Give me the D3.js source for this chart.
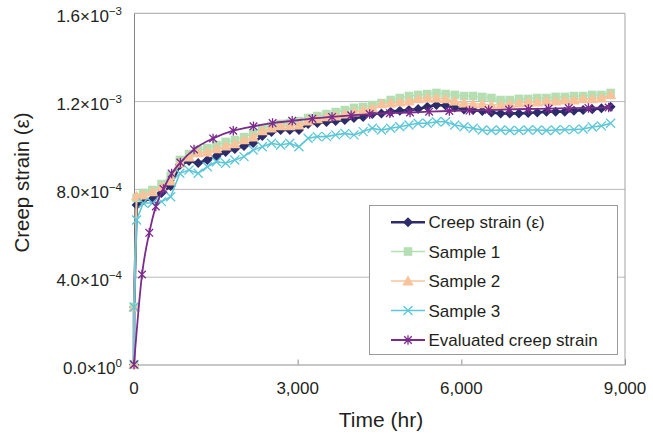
<!DOCTYPE html>
<html><head><meta charset="utf-8">
<script src="https://cdn.jsdelivr.net/npm/d3@7"></script>
<style>
body{margin:0;background:#fff}
svg{display:block}
text{font-family:"Liberation Sans",Arial,sans-serif;fill:#231f20}
</style>
</head><body>
<svg id="chart" width="653" height="435"></svg>
<script>
// ---- data (strain values in units of 1e-4) ----
const STRAIN_UNIT = 1e-4;
const timeHr = [0, 2, 48, 168, 336, 504, 672, 840, 1008, 1176, 1344, 1512, 1680, 1848, 2016, 2184, 2352, 2520, 2688, 2856, 3024, 3192, 3360, 3528, 3696, 3864, 4032, 4200, 4368, 4536, 4704, 4872, 5040, 5208, 5376, 5544, 5712, 5880, 6048, 6216, 6384, 6552, 6720, 6888, 7056, 7224, 7392, 7560, 7728, 7896, 8064, 8232, 8400, 8568, 8736];
const creepStrain = [0, 2.62, 7.27, 7.49, 7.54, 7.81, 8.13, 9.09, 9.27, 9.18, 9.32, 9.50, 9.68, 9.82, 9.95, 10.09, 10.41, 10.59, 10.68, 10.68, 10.68, 10.96, 11.00, 11.05, 11.09, 11.14, 11.23, 11.28, 11.41, 11.44, 11.52, 11.56, 11.59, 11.64, 11.74, 11.82, 11.80, 11.71, 11.62, 11.59, 11.55, 11.48, 11.44, 11.44, 11.44, 11.46, 11.48, 11.52, 11.52, 11.52, 11.56, 11.59, 11.63, 11.67, 11.74];
const sample1 = [0, 2.62, 7.59, 7.81, 7.95, 8.22, 8.59, 9.32, 9.59, 9.77, 9.86, 10.00, 10.14, 10.23, 10.36, 10.55, 10.77, 10.87, 10.96, 11.00, 11.09, 11.23, 11.32, 11.41, 11.50, 11.59, 11.69, 11.73, 11.82, 11.91, 12.05, 12.14, 12.23, 12.28, 12.32, 12.37, 12.32, 12.28, 12.23, 12.23, 12.19, 12.14, 12.05, 12.05, 12.10, 12.10, 12.14, 12.14, 12.19, 12.19, 12.23, 12.23, 12.28, 12.28, 12.37];
const sample2 = [0, 2.62, 7.68, 7.72, 7.86, 8.09, 8.36, 9.18, 9.45, 9.64, 9.68, 9.82, 9.95, 10.05, 10.23, 10.36, 10.64, 10.77, 10.87, 10.87, 10.91, 11.09, 11.19, 11.28, 11.32, 11.41, 11.50, 11.59, 11.69, 11.87, 11.91, 11.96, 12.00, 12.10, 12.14, 12.14, 12.10, 12.00, 11.91, 11.87, 11.87, 11.82, 11.82, 11.87, 11.91, 11.96, 11.96, 12.00, 12.00, 12.05, 12.05, 12.10, 12.10, 12.14, 12.28];
const sample3 = [0, 2.62, 6.58, 7.36, 7.36, 7.42, 7.64, 8.71, 8.86, 8.71, 9.01, 9.24, 9.17, 9.32, 9.47, 9.77, 9.92, 10.08, 10.00, 10.08, 9.92, 10.31, 10.38, 10.38, 10.46, 10.53, 10.46, 10.61, 10.76, 10.68, 10.76, 10.83, 10.91, 10.99, 10.99, 11.06, 11.06, 10.91, 10.83, 10.76, 10.68, 10.66, 10.68, 10.66, 10.66, 10.68, 10.68, 10.66, 10.68, 10.70, 10.70, 10.73, 10.82, 10.87, 10.99];
const evalTime = [0, 147, 280, 400, 540, 690, 850, 1100, 1450, 1820, 2190, 2540, 2900, 3270, 3630, 3980, 4320, 4690, 5060, 5410, 5780, 6150, 6500, 6870, 7230, 7600, 7970, 8330, 8700];
const evalStrain = [0, 4.1, 6.0, 7.2, 8.0, 8.7, 9.2, 9.8, 10.3, 10.65, 10.85, 11.0, 11.1, 11.2, 11.28, 11.35, 11.41, 11.45, 11.48, 11.52, 11.55, 11.57, 11.59, 11.62, 11.64, 11.66, 11.68, 11.69, 11.71];

const yTickValues = [0, 4e-4, 8e-4, 1.2e-3, 1.6e-3];
const yTickMantissa = ["0.0", "4.0", "8.0", "1.2", "1.6"];
const yTickExponent = ["0", "\u22124", "\u22124", "\u22123", "\u22123"];
const xTickValues = [0, 3000, 6000, 9000];
const seriesNames = ["Creep strain (\u03b5)", "Sample 1", "Sample 2", "Sample 3", "Evaluated creep strain"];

// ---- chart ----
const svg = d3.select("#chart");
const X0 = 134, X1 = 625, Y0 = 364.5, Y1 = 13.3;
const x = d3.scaleLinear().domain([0, 9000]).range([X0, X1]);
const y = d3.scaleLinear().domain([0, 1.6e-3]).range([Y0, Y1]);

// gridlines
svg.append("g").attr("transform", `translate(${X0},0)`)
  .call(d3.axisLeft(y).tickValues(yTickValues.slice(1, 4)).tickSize(-(X1 - X0)).tickFormat(""))
  .call(g => g.select(".domain").remove())
  .call(g => g.selectAll("line").attr("stroke", "#b9b9b9").attr("stroke-width", 1));

// border top & right
svg.append("line").attr("x1", X0).attr("x2", X1).attr("y1", y(1.6e-3)).attr("y2", y(1.6e-3)).attr("stroke", "#a3a3a3");
svg.append("line").attr("x1", X1).attr("x2", X1).attr("y1", Y1).attr("y2", Y0).attr("stroke", "#a3a3a3");

// x axis
const xAxis = svg.append("g").attr("transform", `translate(0,${Y0})`)
  .call(d3.axisTop(x).tickValues(xTickValues).tickSize(5).tickFormat(""));
xAxis.select(".domain").attr("stroke", "#8e8e8e");
xAxis.selectAll("line").attr("stroke", "#8e8e8e");
svg.append("g").selectAll("text").data(xTickValues).join("text")
  .attr("x", d => x(d)).attr("y", Y0 + 29.5).attr("text-anchor", "middle")
  .attr("font-size", 17).text(d => d3.format(",")(d));

// y axis
const yAxis = svg.append("g").attr("transform", `translate(${X0},0)`)
  .call(d3.axisLeft(y).tickValues(yTickValues).tickSize(0).tickFormat(""));
yAxis.select(".domain").attr("stroke", "#858585");
const yl = svg.append("g").selectAll("text").data(yTickValues).join("text")
  .attr("x", 122).attr("y", d => y(d) + 9).attr("text-anchor", "end").attr("font-size", 17);
yl.append("tspan").text((d, i) => yTickMantissa[i] + "\u00d710");
yl.append("tspan").attr("font-size", 11.5).attr("dy", -7).text((d, i) => yTickExponent[i]);

// axis titles
svg.append("text").attr("transform", "translate(28.5,182.5) rotate(-90)")
  .attr("text-anchor", "middle").attr("font-size", 20.5).text("Creep strain (\u03b5)");
svg.append("text").attr("x", 381).attr("y", 427).attr("text-anchor", "middle")
  .attr("font-size", 21).text("Time (hr)");

// symbols
const symDiamond = {draw(c, s){ c.moveTo(0,-s); c.lineTo(s,0); c.lineTo(0,s); c.lineTo(-s,0); c.closePath(); }};
const symSquare = {draw(c, s){ c.rect(-s,-s,2*s,2*s); }};
const symTriangle = {draw(c, s){ c.moveTo(0,-s); c.lineTo(s*1.05,s*0.8); c.lineTo(-s*1.05,s*0.8); c.closePath(); }};
const symX = {draw(c, s){ c.moveTo(-s,-s); c.lineTo(s,s); c.moveTo(-s,s); c.lineTo(s,-s); }};
const symStar = {draw(c, s){ c.moveTo(-s,-s); c.lineTo(s,s); c.moveTo(-s,s); c.lineTo(s,-s); c.moveTo(0,-s*1.25); c.lineTo(0,s*1.25); }};

const toPts = (ts, vs) => ts.map((t, i) => ({t, v: vs[i] * STRAIN_UNIT}));
const series = [
  {name: seriesNames[0], pts: toPts(timeHr, creepStrain), color: "#2d2c6b", lw: 2.6, sym: symDiamond, r: 5, fill: true},
  {name: seriesNames[1], pts: toPts(timeHr, sample1), color: "#b5dfb3", lw: 1.6, sym: symSquare, r: 4.3, fill: true},
  {name: seriesNames[2], pts: toPts(timeHr, sample2), color: "#f8c39b", lw: 1.6, sym: symTriangle, r: 5.5, fill: true},
  {name: seriesNames[3], pts: toPts(timeHr, sample3), color: "#5ec7d7", lw: 1.6, sym: symX, r: 4.5, fill: false},
  {name: seriesNames[4], pts: toPts(evalTime, evalStrain), color: "#7b2b8b", lw: 1.8, sym: symStar, r: 3.8, fill: false, smooth: true}
];

const plot = svg.append("g");
series.forEach(s => {
  const line = d3.line().x(d => x(d.t)).y(d => y(d.v));
  if (s.smooth) line.curve(d3.curveMonotoneX);
  plot.append("path").datum(s.pts).attr("d", line).attr("fill", "none")
    .attr("stroke", s.color).attr("stroke-width", s.lw);
  plot.append("g").selectAll("path").data(s.pts).join("path")
    .attr("transform", d => `translate(${x(d.t)},${y(d.v)})`)
    .attr("d", d3.symbol().type(s.sym).size(s.r))
    .attr("fill", s.fill ? s.color : "none")
    .attr("stroke", s.fill ? "none" : s.color).attr("stroke-width", 1.3);
});

// legend
const lg = svg.append("g");
lg.append("rect").attr("x", 369.5).attr("y", 205.5).attr("width", 248).attr("height", 149)
  .attr("fill", "#fff").attr("stroke", "#9a9a9a");
const rowY = [222.3, 251.5, 281, 310.5, 340];
series.forEach((s, i) => {
  const g = lg.append("g").attr("transform", `translate(0,${rowY[i]})`);
  g.append("line").attr("x1", 391).attr("x2", 425).attr("stroke", s.color).attr("stroke-width", s.lw);
  g.append("path").attr("transform", "translate(408,0)").attr("d", d3.symbol().type(s.sym).size(s.r))
    .attr("fill", s.fill ? s.color : "none").attr("stroke", s.fill ? "none" : s.color).attr("stroke-width", 1.3);
  g.append("text").attr("x", 428.5).attr("y", 6).attr("font-size", 17).text(s.name);
});
</script>
</body></html>
